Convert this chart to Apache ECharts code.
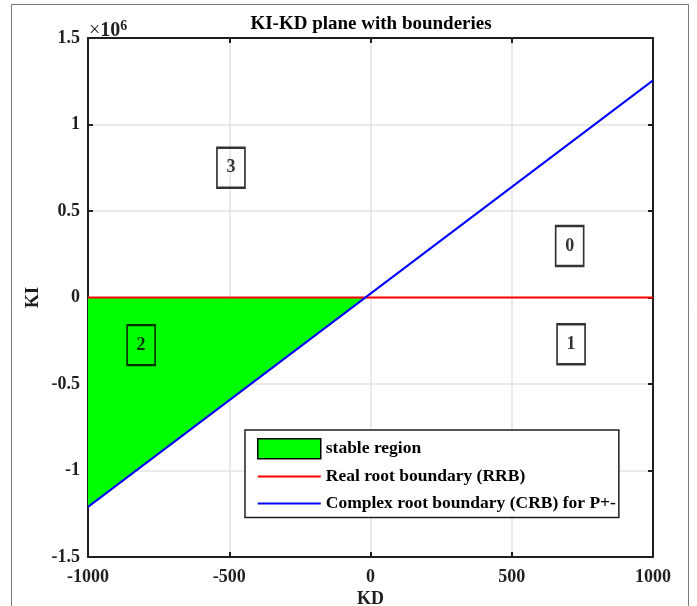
<!DOCTYPE html>
<html><head><meta charset="utf-8">
<script src="https://cdn.jsdelivr.net/npm/echarts@6/dist/echarts.min.js"></script>
<style>html,body{margin:0;padding:0;background:#fff}#c{width:697px;height:606px}</style>
</head><body><div id="c"></div>
<script>
// Data
const xTicks = [-1000, -500, 0, 500, 1000];
const yTicks = [-1.5e6, -1e6, -0.5e6, 0, 0.5e6, 1e6, 1.5e6];
const rrbLine = [[-1000, 0], [1000, 0]];                 // Real root boundary
const crbLine = [[-1000, -1.21e6], [1000, 1.255e6]];     // Complex root boundary
const stableEdge = [[-1000, -1.21e6], [-16, 0]];         // lower edge of stable region (filled to KI=0)
const regionLabels = [[-494, 0.75e6, '3'], [-812, -0.275e6, '2'], [705, 0.298e6, '0'], [710, -0.27e6, '1']];
const names = ['stable region', 'Real root boundary (RRB)', 'Complex root boundary (CRB) for P+-'];

const FONT = 'Liberation Serif';
const dark = '#1f1f1f';
const lineIcon = 'path://M0,0L0.01,0M0,20L0.01,20M0,9L63,9L63,11L0,11Z';
const chart = echarts.init(document.getElementById('c'));
chart.setOption({
  animation: false,
  backgroundColor: '#fff',
  title: {
    text: 'KI-KD plane with bounderies', left: 366, top: 10, textAlign: 'center',
    textStyle: {fontFamily: FONT, fontWeight: 'bold', fontSize: 19, color: '#000'}
  },
  graphic: [
    {type: 'rect', shape: {x: 11.5, y: 4.5, width: 677, height: 640}, style: {fill: 'none', stroke: '#777', lineWidth: 1}, silent: true},
    {type: 'text', x: 89, y: 19, style: {
      text: '×{b|10}{s|6}', fontFamily: FONT, fontSize: 20, fill: dark,
      rich: {
        b: {fontFamily: FONT, fontSize: 20, fontWeight: 'bold', fill: dark},
        s: {fontFamily: FONT, fontSize: 14, fontWeight: 'bold', verticalAlign: 'top', padding: [0, 0, 10, 0], fill: dark}
      }
    }}
  ],
  grid: {left: 88, right: 44, top: 38, bottom: 49, containLabel: false, outerBoundsMode: 'none'},
  legend: {
    orient: 'vertical', left: 245, top: 430,
    data: [
      {name: names[0], icon: 'rect', itemStyle: {color: '#00ff00', borderColor: '#000', borderWidth: 1.5}},
      {name: names[1], icon: lineIcon, itemStyle: {color: '#ff0000'}},
      {name: names[2], icon: lineIcon, itemStyle: {color: '#0000ff'}}
    ],
    itemWidth: 63, itemHeight: 20, itemGap: 7,
    padding: [8, 3, 4, 12],
    backgroundColor: '#fff', borderColor: dark, borderWidth: 1.5,
    textStyle: {fontFamily: FONT, fontWeight: 'bold', fontSize: 17.5, color: '#000'}
  },
  xAxis: [{
    type: 'value', min: -1000, max: 1000, interval: 500,
    name: 'KD', nameLocation: 'middle', nameGap: 33, nameMoveOverlap: false,
    nameTextStyle: {fontFamily: FONT, fontWeight: 'bold', fontSize: 18, color: dark},
    axisLine: {show: true, onZero: false, lineStyle: {color: dark, width: 2}},
    axisTick: {show: true, inside: true, length: 5, lineStyle: {color: dark, width: 2}},
    axisLabel: {fontFamily: FONT, fontWeight: 'bold', fontSize: 18, color: dark, margin: 11,
      formatter: v => String(v)},
    splitLine: {show: true, lineStyle: {color: '#e3e3e3', width: 1.5}}
  }, {
    type: 'value', position: 'top', min: -1000, max: 1000, interval: 500,
    axisLine: {show: true, onZero: false, lineStyle: {color: dark, width: 2}},
    axisTick: {show: true, inside: true, length: 5, lineStyle: {color: dark, width: 2}},
    axisLabel: {show: false}, splitLine: {show: false}
  }],
  yAxis: [{
    type: 'value', min: -1.5e6, max: 1.5e6, interval: 0.5e6,
    name: 'KI', nameLocation: 'middle', nameGap: 46, nameMoveOverlap: false,
    nameTextStyle: {fontFamily: FONT, fontWeight: 'bold', fontSize: 18, color: dark},
    axisLine: {show: true, onZero: false, lineStyle: {color: dark, width: 2}},
    axisTick: {show: true, inside: true, length: 5, lineStyle: {color: dark, width: 2}},
    axisLabel: {fontFamily: FONT, fontWeight: 'bold', fontSize: 18, color: dark, margin: 8,
      formatter: v => String(Math.round(v / 1e5) / 10)},
    splitLine: {show: true, lineStyle: {color: '#e3e3e3', width: 1.5}}
  }, {
    type: 'value', position: 'right', min: -1.5e6, max: 1.5e6, interval: 0.5e6,
    axisLine: {show: true, onZero: false, lineStyle: {color: dark, width: 2}},
    axisTick: {show: true, inside: true, length: 5, lineStyle: {color: dark, width: 2}},
    axisLabel: {show: false}, splitLine: {show: false}
  }],
  series: [
    {
      name: names[0], type: 'line', data: stableEdge, showSymbol: false, symbol: 'none',
      lineStyle: {width: 0, color: '#00ff00'}, itemStyle: {color: '#00ff00'},
      areaStyle: {color: '#00ff00', opacity: 1, origin: 0}, z: 1
    },
    {
      name: names[1], type: 'line', data: rrbLine, showSymbol: false, symbol: 'none',
      lineStyle: {width: 2, color: '#ff0000'}, itemStyle: {color: '#ff0000'}, z: 2
    },
    {
      name: names[2], type: 'line', data: crbLine, showSymbol: false, symbol: 'none',
      lineStyle: {width: 2, color: '#0000ff'}, itemStyle: {color: '#0000ff'}, z: 3
    },
    {
      type: 'scatter', data: regionLabels, symbol: 'rect', symbolSize: [28, 40],
      itemStyle: {color: 'rgba(0,0,0,0)', borderColor: '#000', borderWidth: 2},
      label: {show: true, position: 'inside', formatter: p => p.data[2],
        fontFamily: FONT, fontWeight: 'bold', fontSize: 18, color: '#000'},
      z: 4, silent: true
    }
  ]
});
</script></body></html>
